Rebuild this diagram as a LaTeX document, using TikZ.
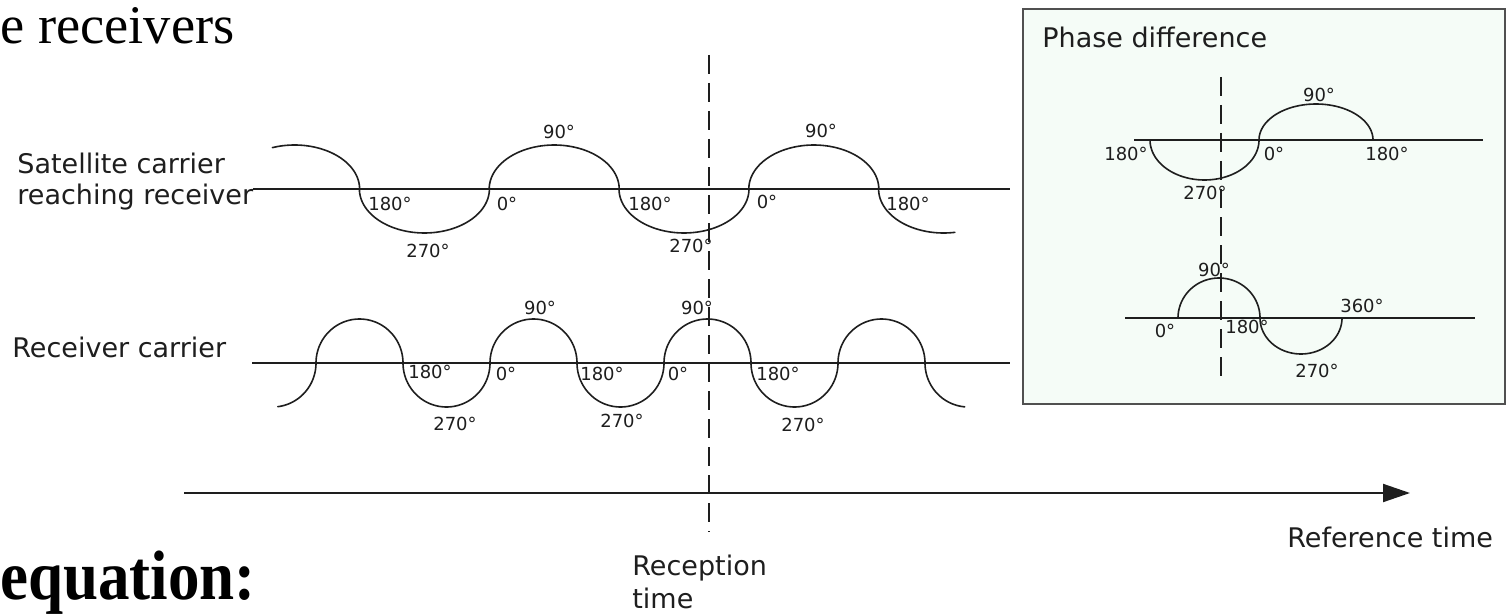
\documentclass[tikz,border=0pt]{standalone}
\usepackage{fontspec}
\setmainfont{DejaVu Sans}
\newfontfamily\serifT{Liberation Serif}
\newfontfamily\serifB[FakeStretch=0.9]{Liberation Serif Bold}
\usetikzlibrary{arrows.meta}
\definecolor{inkc}{RGB}{30,30,30}
\definecolor{boxfill}{RGB}{245,252,247}
\definecolor{boxline}{RGB}{80,80,80}
\newcommand\hump[6]{plot[domain=#5:#6,samples=60]({#1+#3*cos(\x)},{#2+#4*sin(\x)})}
\begin{document}
\begin{tikzpicture}[x=0.5pt,y=-0.5pt,
  axisline/.style={draw=inkc,line width=1pt},
  waveline/.style={draw=inkc,line width=0.8pt,line cap=round,line join=round},
  dashline/.style={draw=inkc,line width=0.8pt,dash pattern=on 9.5pt off 4.5pt},
  biglbl/.style={inner sep=0pt,font=\fontsize{13.5}{16}\selectfont,text=inkc},
  deg/.style={inner sep=0pt,font=\fontsize{9}{10}\selectfont,text=inkc},
  boxstyle/.style={draw=boxline,fill=boxfill,line width=1.1pt},
]
\useasboundingbox (0,0) rectangle (1510,615);
\clip (0,0) rectangle (1510,615);

% headings from the surrounding slide
\node[anchor=base west,inner sep=0pt,font=\serifT\fontsize{27.2}{30}\selectfont,text=black] (title) at (0,44) {e receivers};
\node[anchor=base west,inner sep=0pt,font=\serifB\fontsize{35}{38}\selectfont,text=black] (eqn) at (0,599) {equation:};

% labels
\node[biglbl,anchor=base west] (sat1) at (17,174) {Satellite carrier};
\node[biglbl,anchor=base west] (sat2) at (17,205) {reaching receiver};
\node[biglbl,anchor=base west] (rec) at (12,357) {Receiver carrier};
\node[biglbl,anchor=base west] (rt1) at (632,575) {Reception};
\node[biglbl,anchor=base west] (rt2) at (632,608) {time};
\node[biglbl,anchor=base west] (ref) at (1287,547) {Reference time};

% coordinates
\coordinate (satL) at (253,189);
\coordinate (satR) at (1010,189);
\coordinate (recL) at (252,363);
\coordinate (recR) at (1010,363);
\coordinate (tL) at (184,493);
\coordinate (tR) at (1410,493);
\coordinate (dT) at (709,55);
\coordinate (dB) at (709,532);

% axes
\draw[axisline] (satL) -- (satR);
\draw[axisline] (recL) -- (recR);
\draw[axisline,-{Triangle[length=13.5pt,width=9pt]}] (tL) -- (tR);
\draw[dashline] (dT) -- (dB);

% satellite wave
\draw[waveline] \hump{294.6}{189}{65}{44}{250}{360} \hump{424.4}{189}{65}{44}{180}{0}
  \hump{554.2}{189}{65}{44}{180}{360} \hump{684}{189}{65}{44}{180}{0}
  \hump{813.8}{189}{65}{44}{180}{360} \hump{943.6}{189}{65}{44}{180}{80};

% receiver wave
\draw[waveline] \hump{272.5}{363}{43.5}{44}{83}{0} \hump{359.5}{363}{43.5}{44}{180}{360}
  \hump{446.5}{363}{43.5}{44}{180}{0} \hump{533.5}{363}{43.5}{44}{180}{360}
  \hump{620.5}{363}{43.5}{44}{180}{0} \hump{707.5}{363}{43.5}{44}{180}{360}
  \hump{794.5}{363}{43.5}{44}{180}{0} \hump{881.5}{363}{43.5}{44}{180}{360}
  \hump{968.5}{363}{43.5}{44}{180}{95};

% satellite degree labels
\node[deg] (s1) at (390,204) {180°};
\node[deg] (s2) at (428,251) {270°};
\node[deg] (s3) at (507,204) {0°};
\node[deg] (s4) at (559,132) {90°};
\node[deg] (s5) at (650,204) {180°};
\node[deg] (s6) at (691,246) {270°};
\node[deg] (s7) at (767,202) {0°};
\node[deg] (s8) at (821,131) {90°};
\node[deg] (s9) at (908,204) {180°};

% receiver degree labels
\node[deg] (r1) at (430,372) {180°};
\node[deg] (r2) at (455,424) {270°};
\node[deg] (r3) at (506,374) {0°};
\node[deg] (r4) at (540,308) {90°};
\node[deg] (r5) at (602,374) {180°};
\node[deg] (r6) at (622,421) {270°};
\node[deg] (r7) at (678,374) {0°};
\node[deg] (r8) at (697,308) {90°};
\node[deg] (r9) at (778,374) {180°};
\node[deg] (r10) at (803,425) {270°};

% inset
\coordinate (bxA) at (1023,9);
\coordinate (bxB) at (1505,404);
\draw[boxstyle] (bxA) rectangle (bxB);
\node[biglbl,anchor=base west] (phd) at (1042,48) {Phase difference};
\coordinate (iaL) at (1134,140);
\coordinate (iaR) at (1483,140);
\coordinate (ibL) at (1125,318);
\coordinate (ibR) at (1475,318);
\coordinate (idT) at (1221,77);
\coordinate (idB) at (1221,378);
\draw[axisline] (iaL) -- (iaR);
\draw[axisline] (ibL) -- (ibR);
\draw[dashline] (idT) -- (idB);
\draw[waveline] \hump{1204.5}{140}{54.5}{40}{180}{0} \hump{1316}{140}{57}{36}{180}{360};
\draw[waveline] \hump{1219}{318}{41}{40}{180}{360} \hump{1301}{318}{41}{36}{180}{0};
\node[deg] (i1) at (1126,154) {180°};
\node[deg] (i2) at (1205,193) {270°};
\node[deg] (i3) at (1274,154) {0°};
\node[deg] (i4) at (1319,95) {90°};
\node[deg] (i5) at (1387,154) {180°};
\node[deg] (i6) at (1214,270) {90°};
\node[deg] (i7) at (1165,331) {0°};
\node[deg] (i8) at (1247,327) {180°};
\node[deg] (i9) at (1362,306) {360°};
\node[deg] (i10) at (1317,371) {270°};
\end{tikzpicture}
\end{document}
